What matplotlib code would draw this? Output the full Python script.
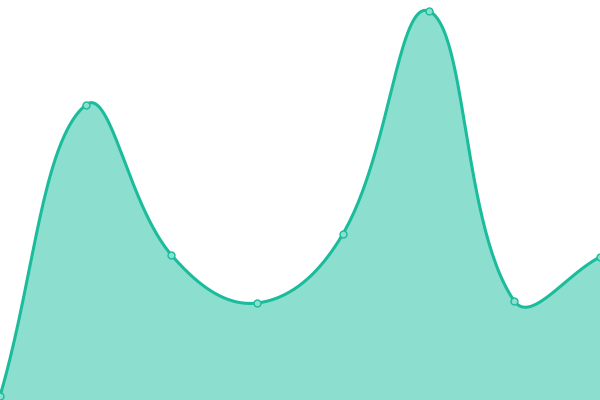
import numpy as np
import matplotlib
matplotlib.use("Agg")
import matplotlib.pyplot as plt

labels = ["A", "B", "C", "D", "E", "F", "G", "H"]
values = [4, 295, 145, 97, 166, 389, 99, 143]

line_color = "#1abc9c"
fill_color = "#8cdfcf"
tension = 0.4

W, H = 600, 400
x = np.arange(len(values)) * W / (len(values) - 1)
y = np.array(values, dtype=float)


def spline_path(px, py, t):
    # chart.js-like bezier control points
    n = len(px)
    cps = []
    for i in range(n):
        p0 = (px[max(i - 1, 0)], py[max(i - 1, 0)])
        p1 = (px[i], py[i])
        p2 = (px[min(i + 1, n - 1)], py[min(i + 1, n - 1)])
        d01 = np.hypot(p1[0] - p0[0], p1[1] - p0[1])
        d12 = np.hypot(p2[0] - p1[0], p2[1] - p1[1])
        s01 = d01 / (d01 + d12) if d01 + d12 else 0
        s12 = d12 / (d01 + d12) if d01 + d12 else 0
        fa, fb = t * s01, t * s12
        prev_cp = (p1[0] - fa * (p2[0] - p0[0]), p1[1] - fa * (p2[1] - p0[1]))
        next_cp = (p1[0] + fb * (p2[0] - p0[0]), p1[1] + fb * (p2[1] - p0[1]))
        cps.append((prev_cp, next_cp))
    xs, ys = [], []
    tt = np.linspace(0, 1, 60)
    for i in range(n - 1):
        a = (px[i], py[i])
        b = cps[i][1]
        c = cps[i + 1][0]
        d = (px[i + 1], py[i + 1])
        bx = (1 - tt) ** 3 * a[0] + 3 * (1 - tt) ** 2 * tt * b[0] + 3 * (1 - tt) * tt ** 2 * c[0] + tt ** 3 * d[0]
        by = (1 - tt) ** 3 * a[1] + 3 * (1 - tt) ** 2 * tt * b[1] + 3 * (1 - tt) * tt ** 2 * c[1] + tt ** 3 * d[1]
        xs.extend(bx)
        ys.extend(by)
    return np.array(xs), np.array(ys)


cx, cy = spline_path(x, y, tension)

fig = plt.figure(figsize=(6, 4), dpi=100)
ax = fig.add_axes([0, 0, 1, 1])
ax.fill_between(cx, cy, 0, color=fill_color, lw=0)
ax.plot(cx, cy, color=line_color, lw=2.2, solid_capstyle="round")
ax.plot(x, y, "o", ms=5, mfc=fill_color, mec=line_color, mew=1)
ax.set_xlim(0, W)
ax.set_ylim(0, H)
ax.axis("off")
fig.savefig("out.png", dpi=100)
